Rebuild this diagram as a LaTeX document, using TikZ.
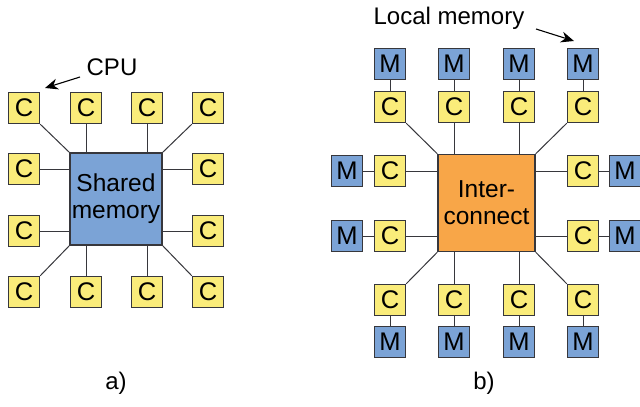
\documentclass[tikz,border=0pt]{standalone}
\usepackage{fontspec}
\setmainfont{Liberation Sans}
\usetikzlibrary{arrows.meta}

\definecolor{cpuyellow}{RGB}{250,236,122}
\definecolor{memblue}{RGB}{123,163,214}
\definecolor{netorange}{RGB}{248,166,72}
\definecolor{edgegray}{RGB}{55,55,60}

\tikzset{
  cbox/.style={draw=edgegray, line width=1.3pt, fill=cpuyellow, minimum size=31pt,
    inner sep=0pt, font=\fontsize{25.5}{27}\selectfont},
  mbox/.style={cbox, fill=memblue},
  bigbox/.style={draw=edgegray, line width=1.3pt, inner sep=0pt, align=center,
    font=\fontsize{24.5}{27}\selectfont},
  wire/.style={draw=edgegray, line width=1pt},
  pointer/.style={draw=black, line width=1.1pt, -{Stealth[length=13pt,width=11pt]}},
  caption/.style={font=\fontsize{24}{26}\selectfont}
}

\begin{document}
\begin{tikzpicture}[x=1pt,y=-1pt]

    % --- Page frame ---
    \useasboundingbox (0,0) rectangle (640,407);

    % --- a) Shared memory ---
    \node[bigbox, fill=memblue, minimum size=92pt] (shm) at (116,199) {Shared\\memory};

    % Top row of CPUs
    \node[cbox] (aT1) at (24,108) {C};
    \node[cbox] (aT2) at (86,108) {C};
    \node[cbox] (aT3) at (147,108) {C};
    \node[cbox] (aT4) at (208,108) {C};

    % Side CPUs
    \node[cbox] (aL1) at (24,169) {C};
    \node[cbox] (aL2) at (24,231) {C};
    \node[cbox] (aR1) at (208,169) {C};
    \node[cbox] (aR2) at (208,231) {C};

    % Bottom row of CPUs
    \node[cbox] (aB1) at (24,292) {C};
    \node[cbox] (aB2) at (86,292) {C};
    \node[cbox] (aB3) at (147,292) {C};
    \node[cbox] (aB4) at (208,292) {C};

    % Links to the shared memory
    \draw[wire] (aT1.south east) -- (shm.north west);
    \draw[wire] (aT2.south) -- (aT2.south |- shm.north);
    \draw[wire] (aT3.south) -- (aT3.south |- shm.north);
    \draw[wire] (aT4.south west) -- (shm.north east);
    \draw[wire] (aL1.east) -- (aL1.east -| shm.west);
    \draw[wire] (aL2.east) -- (aL2.east -| shm.west);
    \draw[wire] (aR1.west) -- (aR1.west -| shm.east);
    \draw[wire] (aR2.west) -- (aR2.west -| shm.east);
    \draw[wire] (aB1.north east) -- (shm.south west);
    \draw[wire] (aB2.north) -- (aB2.north |- shm.south);
    \draw[wire] (aB3.north) -- (aB3.north |- shm.south);
    \draw[wire] (aB4.north west) -- (shm.south east);

    % CPU label with its arrow
    \node[caption] (cpu) at (112,67) {CPU};
    \coordinate (cpuTail) at (80,77);
    \coordinate (cpuTip) at (45,88);
    \draw[pointer] (cpuTail) -- (cpuTip);

    \node[caption] (capA) at (116,383) {a)};

    % --- b) Distributed memory ---
    \node[bigbox, fill=netorange, minimum size=97pt] (icn) at (486.5,203) {Inter-\\connect};

    % Top row: CPUs and their memories
    \node[cbox] (bT1) at (390,107) {C};
    \node[cbox] (bT2) at (454,107) {C};
    \node[cbox] (bT3) at (519,107) {C};
    \node[cbox] (bT4) at (583,107) {C};
    \node[mbox] (mT1) at (390,64) {M};
    \node[mbox] (mT2) at (454,64) {M};
    \node[mbox] (mT3) at (519,64) {M};
    \node[mbox] (mT4) at (583,64) {M};

    % Side CPUs and their memories
    \node[cbox] (bL1) at (390,171) {C};
    \node[cbox] (bL2) at (390,236) {C};
    \node[mbox] (mL1) at (347,171) {M};
    \node[mbox] (mL2) at (347,236) {M};
    \node[cbox] (bR1) at (583,171) {C};
    \node[cbox] (bR2) at (583,236) {C};
    \node[mbox] (mR1) at (625,171) {M};
    \node[mbox] (mR2) at (625,236) {M};

    % Bottom row: CPUs and their memories
    \node[cbox] (bB1) at (390,300) {C};
    \node[cbox] (bB2) at (454,300) {C};
    \node[cbox] (bB3) at (519,300) {C};
    \node[cbox] (bB4) at (583,300) {C};
    \node[mbox] (mB1) at (390,342) {M};
    \node[mbox] (mB2) at (454,342) {M};
    \node[mbox] (mB3) at (519,342) {M};
    \node[mbox] (mB4) at (583,342) {M};

    % Links CPU to local memory
    \draw[wire] (mT1) -- (bT1);
    \draw[wire] (mT2) -- (bT2);
    \draw[wire] (mT3) -- (bT3);
    \draw[wire] (mT4) -- (bT4);
    \draw[wire] (mL1) -- (bL1);
    \draw[wire] (mL2) -- (bL2);
    \draw[wire] (mR1) -- (bR1);
    \draw[wire] (mR2) -- (bR2);
    \draw[wire] (mB1) -- (bB1);
    \draw[wire] (mB2) -- (bB2);
    \draw[wire] (mB3) -- (bB3);
    \draw[wire] (mB4) -- (bB4);

    % Links to the interconnect
    \draw[wire] (bT1.south east) -- (icn.north west);
    \draw[wire] (bT2.south) -- (bT2.south |- icn.north);
    \draw[wire] (bT3.south) -- (bT3.south |- icn.north);
    \draw[wire] (bT4.south west) -- (icn.north east);
    \draw[wire] (bL1.east) -- (bL1.east -| icn.west);
    \draw[wire] (bL2.east) -- (bL2.east -| icn.west);
    \draw[wire] (bR1.west) -- (bR1.west -| icn.east);
    \draw[wire] (bR2.west) -- (bR2.west -| icn.east);
    \draw[wire] (bB1.north east) -- (icn.south west);
    \draw[wire] (bB2.north) -- (bB2.north |- icn.south);
    \draw[wire] (bB3.north) -- (bB3.north |- icn.south);
    \draw[wire] (bB4.north west) -- (icn.south east);

    % Local memory label with its arrow
    \node[caption] (lmem) at (449,18) {Local memory};
    \coordinate (lmemTail) at (536,29);
    \coordinate (lmemTip) at (574,41);
    \draw[pointer] (lmemTail) -- (lmemTip);

    \node[caption] (capB) at (484,383) {b)};

\end{tikzpicture}
\end{document}
